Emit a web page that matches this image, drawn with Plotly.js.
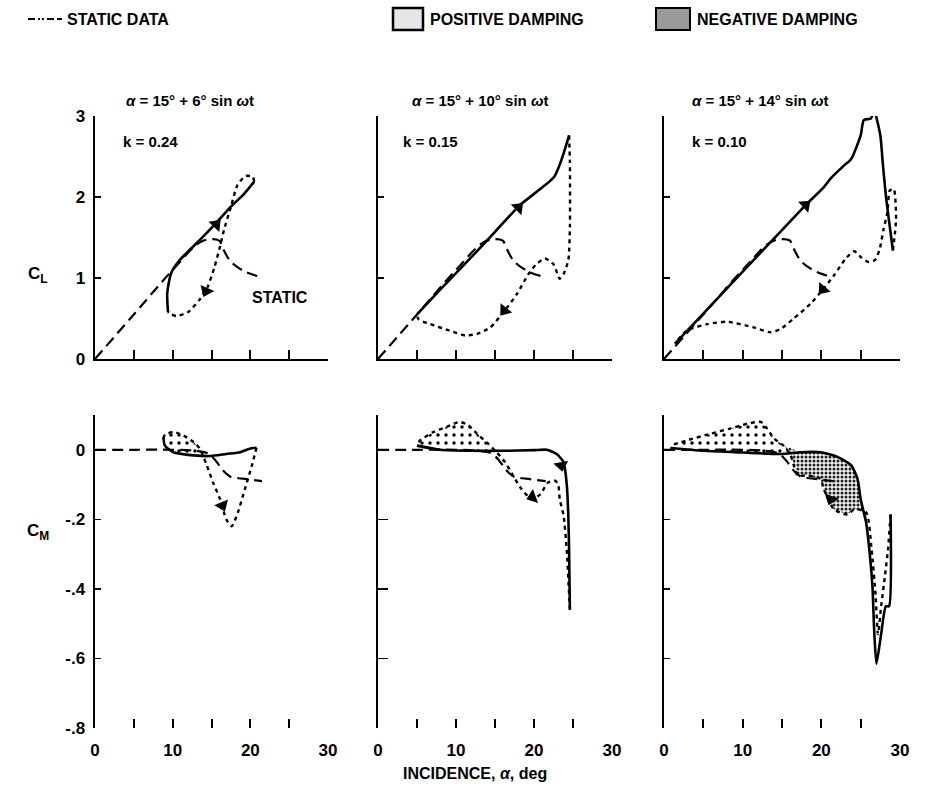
<!DOCTYPE html>
<html><head><meta charset="utf-8">
<script src="https://cdn.plot.ly/plotly-3.0.1.min.js"></script>
<style>html,body{margin:0;padding:0;background:#fff}#chart{width:949px;height:788px}</style>
</head><body><div id="chart"></div>
<script>
// ---------------- DATA ----------------
const columnTitles = ['<i>α</i> = 15° + 6° sin <i>ω</i>t', '<i>α</i> = 15° + 10° sin <i>ω</i>t', '<i>α</i> = 15° + 14° sin <i>ω</i>t'];
const kLabels = ['k = 0.24', 'k = 0.15', 'k = 0.10'];
const xTickVals = [0, 10, 20, 30];
const xTickText = ['0', '10', '20', '30'];
const clTickVals = [0, 1, 2, 3];
const clTickText = ['0', '1', '2', '3'];
const cmTickVals = [-0.8, -0.6, -0.4, -0.2, 0];
const cmTickText = ['-.8', '-.6', '-.4', '-.2', '0'];

// static data (shared)
const staticA  = [0, 5, 10, 13.5, 15, 16, 16.5, 17.5, 19.5, 21.5];
const staticCL = [0, 0.55, 1.1, 1.44, 1.48, 1.46, 1.36, 1.2, 1.07, 1.01];
const staticMA = [0, 5, 10, 13, 14.5, 15.5, 16.5, 17.5, 19, 21.5];
const staticCM = [0, 0, 0, -0.003, -0.01, -0.03, -0.06, -0.078, -0.083, -0.09];

// k = 0.24 lift
const up1A  = [9.4, 9.3, 9.8, 10.9, 13.5, 15.8, 17.5, 19.2, 20.5];
const up1CL = [0.58, 0.81, 1.06, 1.22, 1.47, 1.70, 1.88, 2.04, 2.19];
const dn1A  = [20.5, 20.3, 19.4, 18.35, 17.5, 16.6, 16.1, 15.4, 14.5, 13.45, 12.0, 10.5, 9.6, 9.4];
const dn1CL = [2.19, 2.25, 2.26, 2.15, 1.88, 1.59, 1.39, 1.14, 0.89, 0.73, 0.58, 0.53, 0.56, 0.58];
// k = 0.15 lift
const up2A  = [5.0, 8, 12, 15, 18.2, 20.3, 21.6, 22.6, 23.3, 24.0, 24.5];
const up2CL = [0.55, 0.86, 1.26, 1.57, 1.90, 2.06, 2.16, 2.25, 2.40, 2.60, 2.76];
const dn2A  = [24.5, 24.6, 24.6, 24.4, 23.8, 23.3, 22.5, 21.4, 20.3, 19.3, 17.8, 16.1, 14.4, 12.7, 11.2, 9.2, 6.7, 5.2, 5.0];
const dn2CL = [2.76, 2.44, 1.63, 1.22, 1.05, 0.99, 1.17, 1.24, 1.17, 1.05, 0.80, 0.58, 0.39, 0.31, 0.29, 0.35, 0.43, 0.49, 0.55];
// k = 0.10 lift
const up3A  = [1.4, 5, 10, 15, 18.0, 20.3, 21.2, 22.9, 23.8, 25.0, 25.4, 26.3, 26.7, 27.5, 27.8, 28.2, 28.6, 29.1];
const up3CL = [0.19, 0.56, 1.08, 1.59, 1.90, 2.12, 2.23, 2.39, 2.47, 2.76, 2.95, 2.97, 3.07, 2.76, 2.43, 2.02, 1.71, 1.34];
const dn3A  = [29.1, 29.5, 29.2, 28.7, 28.4, 27.9, 27.4, 26.8, 25.9, 25.0, 24.2, 23.1, 21.6, 20.3, 18.6, 16.5, 14.8, 13.5, 11.4, 8.0, 5.5, 2.9, 1.4];
const dn3CL = [1.34, 1.73, 2.10, 2.08, 1.81, 1.60, 1.35, 1.22, 1.20, 1.26, 1.33, 1.24, 1.03, 0.87, 0.68, 0.50, 0.37, 0.33, 0.39, 0.46, 0.43, 0.35, 0.19];

// k = 0.24 moment
const up1MA = [8.8, 9.0, 10.1, 12.7, 14.8, 16.9, 18.7, 19.9, 20.8];
const up1CM = [0.037, 0.012, -0.007, -0.016, -0.018, -0.012, -0.007, 0.003, 0.006];
const dn1MA = [20.8, 20.2, 19.3, 18.4, 17.6, 16.9, 16.1, 15.2, 14.4, 13.5, 12.7, 11.4, 10.1, 9.2, 8.8];
const dn1CM = [0.006, -0.045, -0.113, -0.18, -0.22, -0.2, -0.142, -0.094, -0.045, 0.003, 0.022, 0.041, 0.051, 0.046, 0.037];
// k = 0.15 moment
const up2MA = [5.0, 8, 12, 16, 20, 21.6, 22.9, 23.8, 24.2, 24.4, 24.5, 24.6];
const up2CM = [0.012, 0.0, -0.003, -0.003, -0.001, 0.0, -0.012, -0.036, -0.10, -0.19, -0.29, -0.46];
const dn2MA = [24.6, 24.2, 23.8, 23.3, 23.1, 22.7, 21.8, 20.8, 19.7, 18.4, 17.3, 16.3, 15.2, 13.9, 12.7, 11.6, 10.5, 8.8, 7.1, 5.4, 5.0];
const dn2CM = [-0.46, -0.29, -0.19, -0.142, -0.10, -0.089, -0.094, -0.128, -0.142, -0.113, -0.074, -0.036, -0.007, 0.022, 0.046, 0.07, 0.08, 0.066, 0.051, 0.027, 0.012];
// k = 0.10 moment
const up3MA = [0.8, 5, 10, 14.8, 17.4, 19.9, 22.1, 23.8, 24.6, 25.0, 25.7, 26.1, 26.5, 26.7, 27.0, 27.6, 28.2, 28.6, 28.8];
const up3CM = [0.005, -0.003, -0.008, -0.012, -0.007, -0.007, -0.021, -0.045, -0.084, -0.142, -0.21, -0.287, -0.393, -0.51, -0.615, -0.53, -0.45, -0.45, -0.186];
const dn3MA = [28.8, 28.5, 28.1, 27.6, 27.2, 26.9, 26.4, 25.7, 24.2, 23.3, 21.6, 20.3, 19.9, 18.2, 17.0, 16.5, 16.1, 15.2, 14.0, 13.1, 12.3, 10.6, 8.4, 5.9, 2.9, 0.8];
const dn3CM = [-0.186, -0.28, -0.36, -0.45, -0.53, -0.42, -0.29, -0.18, -0.171, -0.186, -0.171, -0.113, -0.084, -0.074, -0.074, -0.045, -0.016, 0.012, 0.032, 0.061, 0.08, 0.075, 0.061, 0.046, 0.027, 0.012];

// direction arrows (position + heading in degrees clockwise from up)
const arrCL_A = [[15.6, 14.3], [18.0, 16.2], [18.0, 20.2]];
const arrCL_Y = [[1.66, 0.84], [1.87, 0.60], [1.90, 0.86]];
const arrCL_ang = [[44, 204], [45, 219], [48, 220]];
const arrCM_A = [[16.4], [23.5, 19.8], [21.2]];
const arrCM_Y = [[-0.16], [-0.045, -0.136], [-0.142]];
const arrCM_ang = [[157], [170, 250], [200]];

// damping regions (alpha ranges)
const posRange = [[8.8, 13.5], [5.0, 15.2], [0.8, 15.2]];
const negRange = [null, null, [15.2, 25.7]];

// ---------------- LAYOUT HELPERS ----------------
const W = 949, H = 788;
const px = x => x / W, py = y => 1 - y / H;
const colX = [[95, 328], [378, 612], [664, 900]];
const topDom = [py(359), py(116)];
const botDom = [py(728), py(415)];
const FONT = 'Liberation Sans Narrow, Arial Narrow, Liberation Sans, Arial, sans-serif';

const upL = [up1A, up2A, up3A], upLY = [up1CL, up2CL, up3CL];
const dnL = [dn1A, dn2A, dn3A], dnLY = [dn1CL, dn2CL, dn3CL];
const upM = [up1MA, up2MA, up3MA], upMY = [up1CM, up2CM, up3CM];
const dnM = [dn1MA, dn2MA, dn3MA], dnMY = [dn1CM, dn2CM, dn3CM];

function region(ua, uy, da, dy, r) {
  const xs = [], ys = [];
  ua.forEach((a, i) => { if (a >= r[0] && a <= r[1]) { xs.push(a); ys.push(uy[i]); } });
  da.forEach((a, i) => { if (a >= r[0] && a <= r[1]) { xs.push(a); ys.push(dy[i]); } });
  return [xs, ys];
}

const traces = [];
const layout = {
  width: W, height: H, margin: {l: 0, r: 0, t: 0, b: 0},
  paper_bgcolor: '#fff', plot_bgcolor: 'rgba(0,0,0,0)', showlegend: false,
  font: {family: FONT, color: '#000', size: 14, weight: 'bold'},
  annotations: [], shapes: []
};

for (let c = 0; c < 3; c++) {
  for (let r = 0; r < 2; r++) {
    const n = r * 3 + c + 1;
    const xk = 'xaxis' + (n === 1 ? '' : n), yk = 'yaxis' + (n === 1 ? '' : n);
    const xr = 'x' + (n === 1 ? '' : n), yr = 'y' + (n === 1 ? '' : n);
    layout[xk] = {
      domain: [px(colX[c][0]), px(colX[c][1])], range: [0, 30], anchor: yr,
      showgrid: false, zeroline: false, showline: r === 0, linewidth: 2, linecolor: '#000',
      ticks: 'inside', ticklen: 9, tickwidth: 2, tickcolor: '#000',
      tickvals: r === 0 ? [0, 5, 10, 15, 20, 25, 30] : xTickVals,
      ticktext: r === 0 ? ['0', '5', '10', '15', '20', '25', '30'] : xTickText,
      showticklabels: r === 1, ticklabelstandoff: 10,
      tickfont: {family: FONT, size: 17, weight: 'bold'},
      fixedrange: true
    };
    if (r === 1) layout[xk].minor = {tickvals: [5, 15, 25], ticks: 'inside', ticklen: 9, tickwidth: 2, tickcolor: '#000'};
    layout[yk] = {
      domain: r === 0 ? topDom : botDom, range: r === 0 ? [0, 3] : [-0.8, 0.1], anchor: xr,
      showgrid: false, zeroline: false, showline: true, linewidth: 2.5, linecolor: '#000',
      ticks: 'inside', ticklen: c === 1 && r === 1 ? 10 : 6, tickwidth: 1.5, tickcolor: '#000',
      tickvals: r === 0 ? clTickVals : cmTickVals, ticktext: r === 0 ? clTickText : cmTickText,
      showticklabels: c === 0, ticklabelstandoff: 4,
      tickfont: {family: FONT, size: 17, weight: 'bold'},
      fixedrange: true
    };
    if (r === 1) layout[yk].minor = {tickvals: [0.1], ticks: 'inside', ticklen: 7, tickwidth: 2, tickcolor: '#000'};

    const ups = r === 0 ? upL[c] : upM[c], upsY = r === 0 ? upLY[c] : upMY[c];
    const dns = r === 0 ? dnL[c] : dnM[c], dnsY = r === 0 ? dnLY[c] : dnMY[c];

    if (r === 1) {
      const [pxs, pys] = region(ups, upsY, dns, dnsY, posRange[c]);
      traces.push({x: pxs, y: pys, xaxis: xr, yaxis: yr, mode: 'lines', fill: 'toself', line: {width: 0},
        fillcolor: 'rgba(0,0,0,0)', fillpattern: {shape: '.', size: 8, solidity: 0.15, fgcolor: '#000', bgcolor: 'rgba(0,0,0,0)'}, hoverinfo: 'skip'});
      if (negRange[c]) {
        const [nxs, nys] = region(ups, upsY, dns, dnsY, negRange[c]);
        traces.push({x: nxs, y: nys, xaxis: xr, yaxis: yr, mode: 'lines', fill: 'toself', line: {width: 0},
          fillcolor: 'rgba(0,0,0,0)', fillpattern: {shape: '.', size: 4, solidity: 0.45, fgcolor: '#222', bgcolor: '#f2f2f2'}, hoverinfo: 'skip'});
      }
    }
    // static
    traces.push({x: r === 0 ? staticA : staticMA, y: r === 0 ? staticCL : staticCM, xaxis: xr, yaxis: yr,
      mode: 'lines', line: {color: '#000', width: 2.2, dash: '11px,6px', shape: 'spline'}, cliponaxis: false});
    // upstroke
    traces.push({x: ups, y: upsY, xaxis: xr, yaxis: yr, mode: 'lines',
      line: {color: '#000', width: 2.6, shape: 'spline', smoothing: 0.6}, cliponaxis: false});
    // downstroke
    traces.push({x: dns, y: dnsY, xaxis: xr, yaxis: yr, mode: 'lines',
      line: {color: '#000', width: 2.4, dash: '4px,4px', shape: 'spline', smoothing: 0.6}, cliponaxis: false});
    // arrows
    traces.push({x: r === 0 ? arrCL_A[c] : arrCM_A[c], y: r === 0 ? arrCL_Y[c] : arrCM_Y[c], xaxis: xr, yaxis: yr,
      mode: 'markers', marker: {symbol: 'triangle-up', size: 13, color: '#000', angle: r === 0 ? arrCL_ang[c] : arrCM_ang[c]}, cliponaxis: false});
  }
}

const ann = (x, y, text, size, extra) => layout.annotations.push(Object.assign({
  xref: 'paper', yref: 'paper', x: px(x), y: py(y), text: text, showarrow: false,
  xanchor: 'center', yanchor: 'middle', font: {family: FONT, size: size, weight: 'bold', color: '#000'}
}, extra || {}));

// column titles
const titleX = [190, 480, 760];
columnTitles.forEach((t, i) => ann(titleX[i], 101, t, 15));
// k labels
const kX = [150, 430, 719];
kLabels.forEach((t, i) => ann(kX[i], 141, t, 15));
ann(280, 297, 'STATIC', 16);
ann(38, 275, 'C<sub>L</sub>', 17);
ann(38, 532, 'C<sub>M</sub>', 17);
ann(475, 773, 'INCIDENCE, <i>α</i>, deg', 16);

// legend
layout.shapes.push({type: 'line', xref: 'paper', yref: 'paper', x0: px(28), x1: px(62), y0: py(19), y1: py(19),
  line: {color: '#000', width: 2.2, dash: '7px,3px,2px,2px,2px,3px,7px,3px'}});
ann(65, 19, 'STATIC DATA', 16, {xanchor: 'left'});
layout.shapes.push({type: 'rect', xref: 'paper', yref: 'paper', x0: px(393), x1: px(423), y0: py(30), y1: py(8),
  line: {color: '#000', width: 2.5}, fillcolor: '#e6e6e6'});
ann(428, 19, 'POSITIVE DAMPING', 16, {xanchor: 'left'});
layout.shapes.push({type: 'rect', xref: 'paper', yref: 'paper', x0: px(656), x1: px(690), y0: py(30), y1: py(8),
  line: {color: '#000', width: 2}, fillcolor: '#9a9a9a'});
ann(695, 19, 'NEGATIVE DAMPING', 16, {xanchor: 'left'});

Plotly.newPlot('chart', traces, layout, {displayModeBar: false, staticPlot: true});
</script>
</body></html>
